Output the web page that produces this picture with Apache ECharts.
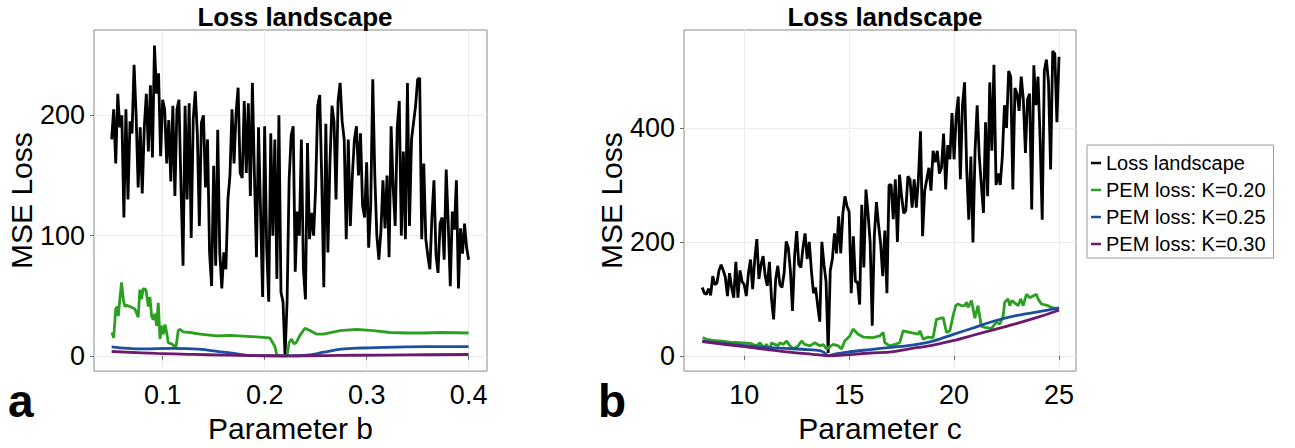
<!DOCTYPE html>
<html>
<head>
<meta charset="utf-8">
<script src="https://cdn.jsdelivr.net/npm/echarts@6/dist/echarts.min.js"></script>
<style>html,body{margin:0;padding:0;background:#fff}#c{width:1295px;height:448px}</style>
</head>
<body>
<div id="c"></div>
<script>
// ---------- Data ----------
const bStart = 0.05, bStep = 0.002;
const lossB = [
180,205,160,218,190,200,115,205,130,195,185,242,200,140,190,135,190,218,170,225,165,258,218,235,166,213,205,160,196,145,208,133,205,213,140,75,208,130,210,98,197,220,185,108,194,200,140,180,86,58,158,75,188,86,56,86,72,130,150,205,160,
202,223,152,148,212,152,210,133,227,150,82,190,120,49,191,90,45,185,100,180,64,200,53,45,0,45,146,183,191,70,120,100,180,72,47,177,97,119,100,140,208,217,146,57,193,86,160,208,195,130,212,227,195,180,97,180,108,150,180,191,150,
185,125,115,161,90,125,230,150,100,80,104,146,106,150,82,191,140,108,190,212,100,170,97,227,108,180,194,208,230,231,97,160,97,83,72,115,146,84,69,110,115,80,155,110,58,120,105,146,56,106,85,110,90,80
];
const pemB020_b = [0.0503,0.052,0.054,0.0556,0.0565,0.058,0.0597,0.0614,0.063,0.0646,0.0679,0.0728,0.076,0.0777,0.0793,0.081,0.0836,0.0859,0.0875,0.0892,0.0908,0.0924,0.0941,0.0957,0.0974,0.099,0.1006,0.1023,0.104,0.1055,0.1088,0.113,0.1153,0.117,0.1202,0.1268,0.1366,0.153,0.166,0.192,0.205,0.210,0.2117,0.2143,0.222,0.224,0.2264,0.2287,0.231,0.2346,0.2395,0.2444,0.251,0.2575,0.274,0.290,0.3065,0.323,0.339,0.356,0.372,0.400];
const pemB020_v = [19.4,15,39,41,33,47,61,47,41,42,41,39,32,55,47,56,55,41,49,33,30,35,25,44,14,25,18,26,19,11,10,7,21,22,20,19.4,18,16.6,17,15.8,15,8,1.4,0,0,11,14,10,11,17,23,21,18,18,21,22,21,19.4,19,19,19.4,19];
const pemB025_b = [0.05,0.08,0.11,0.135,0.155,0.17,0.186,0.222,0.242,0.258,0.275,0.295,0.33,0.36,0.40];
const pemB025_v = [7.5,5.8,6.2,5.5,3.5,2,0.2,0,0.5,3,5.5,6.5,7.3,7.6,7.6];
const pemB030_b = [0.05,0.094,0.13,0.16,0.19,0.225,0.26,0.29,0.34,0.40];
const pemB030_v = [3.6,2,1.2,0.6,0.2,0,0.2,0.5,0.8,1.1];

const cStart = 8, cStep = 0.1;
const lossC = [
120,110,108,118,106,140,125,128,150,160,150,138,105,145,120,102,165,102,150,130,125,105,145,169,117,169,205,135,160,175,140,123,165,100,64,135,158,125,120,145,201,190,150,79,175,219,160,155,190,215,170,200,150,110,
120,88,60,200,160,130,5,150,170,215,180,245,180,250,280,262,253,110,210,130,130,90,265,155,292,250,200,53,210,270,230,197,140,220,110,300,300,240,310,200,318,280,250,255,315,310,260,310,260,310,394,210,290,310,330,290,360,340,360,320,
330,390,292,370,345,426,345,420,455,310,440,480,330,239,350,199,360,440,350,300,251,410,280,480,360,511,300,320,300,350,440,400,500,490,292,470,460,430,490,450,356,450,460,257,510,440,490,380,239,500,520,480,327,535,530,410,525
];
const pemC020_c = [8.02,8.21,8.53,8.92,9.32,9.80,10.27,10.59,10.75,10.91,11.07,11.22,11.30,11.46,11.62,11.70,11.86,12.02,12.18,12.34,12.57,12.73,12.89,13.13,13.37,13.60,13.76,13.92,14.24,14.48,14.64,14.79,15.03,15.19,15.43,15.67,16.14,16.46,16.62,16.70,16.94,17.18,17.41,17.57,17.89,18.29,18.37,18.53,18.76,19.00,19.16,19.48,19.64,19.80,19.95,20.08,20.19,20.35,20.51,20.59,20.67,20.83,20.99,21.14,21.30,21.46,21.78,22.02,22.18,22.34,22.41,22.57,22.65,22.76,23.05,23.18,23.29,23.45,23.61,23.76,23.92,24.00,24.16,24.48,24.72,24.99];
const pemC020_v = [32,29,27,26,24,23,22,17.5,23,15,20,9,23,20,18,23,20,26,17.5,12,17.5,26,20,17.5,23,17.5,20,12,20,17.5,12,26,35,47,38,33,32,35,41,23,17.5,20,23,44,41,38,44,29,33,32,64,67,41,44,70,88,91,88,88,94,85,97,66,88,52,50,48,59,56,70,94,100,88,97,88,100,88,108,102,105,108,100,91,88,84,83];
const pemC025_c = [8,9,10,11,12,13,13.6,13.8,14.0,14.3,15,16,17,18,19,20,21,22,23,24,25];
const pemC025_v = [26,22,18,15,13,11,9,6,0.5,3,7,11,15,19,26,38,50,62,71,77,84];
const pemC030_c = [8,10,12,13.5,14,15,16,17,18,19,20,21,22,23,24,25];
const pemC030_v = [25,16,7,2,0,2,5,7,13,19,27,37,47,57,68,80];

const names = ['Loss landscape','PEM loss: K=0.20','PEM loss: K=0.25','PEM loss: K=0.30'];
const colors = ['#000000','#2ba020','#1d4f9e','#6b1a6e'];
const xTicksB = [0.1,0.2,0.3,0.4];
const yTicksB = [0,100,200];
const xTicksC = [10,15,20,25];
const yTicksC = [0,200,400];

// ---------- Build ----------
const zip = (xs, ys) => xs.map((x, i) => [x, ys[i]]);
const gridded = (start, step, ys) => ys.map((y, i) => [+(start + i * step).toFixed(4), y]);

const FONT = 'Liberation Sans, Arial, Helvetica, sans-serif';
function xAx(grid, min, max, ticks, name, dec) {
  return {
    type: 'value', gridIndex: grid, min: min, max: max,
    name: name, nameLocation: 'middle', nameGap: 41,
    nameTextStyle: { fontSize: 30, color: '#000', fontFamily: FONT },
    axisLine: { show: false },
    axisTick: { show: true, customValues: ticks, length: 4, lineStyle: { color: '#666' } },
    axisLabel: { customValues: ticks, fontSize: 27, color: '#000', margin: 10, fontFamily: FONT,
      formatter: v => v.toFixed(dec) },
    splitLine: { show: true, lineStyle: { color: '#ebebeb', width: 1 } }
  };
}
function yAx(grid, min, max, ticks, gap) {
  return {
    type: 'value', gridIndex: grid, min: min, max: max,
    name: 'MSE Loss', nameLocation: 'middle', nameGap: gap,
    nameTextStyle: { fontSize: 30, color: '#000', fontFamily: FONT },
    axisLine: { show: false },
    axisTick: { show: true, customValues: ticks, length: 4, lineStyle: { color: '#666' } },
    axisLabel: { customValues: ticks, fontSize: 27, color: '#000', margin: 9, fontFamily: FONT,
      formatter: v => String(Math.round(v)) },
    splitLine: { show: true, lineStyle: { color: '#ebebeb', width: 1 } }
  };
}
function line(name, idx, data, color, smooth, z) {
  return { type: 'line', name: name, xAxisIndex: idx, yAxisIndex: idx, data: data,
    showSymbol: false, symbol: 'none', smooth: smooth, z: z,
    lineStyle: { color: color, width: 2.8 }, itemStyle: { color: color }, animation: false };
}

const chart = echarts.init(document.getElementById('c'), null, { renderer: 'svg' });
chart.setOption({
  animation: false,
  backgroundColor: '#fff',
  textStyle: { fontFamily: FONT },
  title: [
    { text: 'Loss landscape', left: 290, top: -1, textAlign: 'center',
      textStyle: { fontSize: 26, fontWeight: 'bold', color: '#000', fontFamily: FONT } },
    { text: 'Loss landscape', left: 880, top: -1, textAlign: 'center',
      textStyle: { fontSize: 26, fontWeight: 'bold', color: '#000', fontFamily: FONT } }
  ],
  grid: [
    { left: 94, right: 808, top: 30, bottom: 76, show: true, borderColor: '#888', borderWidth: 1, containLabel: false },
    { left: 684, right: 219, top: 30, bottom: 76, show: true, borderColor: '#888', borderWidth: 1, containLabel: false }
  ],
  xAxis: [
    xAx(0, 0.0327, 0.418, xTicksB, 'Parameter b', 1),
    xAx(1, 7.13, 25.81, xTicksC, 'Parameter c', 0)
  ],
  yAxis: [
    yAx(0, -12.7, 271, yTicksB, 55),
    yAx(1, -26.8, 572, yTicksC, 52)
  ],
  legend: {
    data: names, orient: 'vertical', left: 1087, top: 145,
    icon: 'rect', itemWidth: 10, itemHeight: 2.5, itemGap: 5,
    padding: [7, 8, 3, 4],
    borderColor: '#999', borderWidth: 1, borderRadius: 0,
    textStyle: { fontSize: 20, color: '#000', lineHeight: 22, fontFamily: FONT }
  },
  graphic: [
    { type: 'text', left: 8, top: 378, style: { text: 'a', font: 'bold 46px ' + FONT, fill: '#000' } },
    { type: 'text', left: 598, top: 378, style: { text: 'b', font: 'bold 46px ' + FONT, fill: '#000' } }
  ],
  series: [
    line(names[0], 0, gridded(bStart, bStep, lossB), colors[0], false, 2),
    line(names[1], 0, zip(pemB020_b, pemB020_v), colors[1], false, 3),
    line(names[2], 0, zip(pemB025_b, pemB025_v), colors[2], 0.4, 4),
    line(names[3], 0, zip(pemB030_b, pemB030_v), colors[3], 0.4, 5),
    line(names[0], 1, gridded(cStart, cStep, lossC), colors[0], false, 2),
    line(names[1], 1, zip(pemC020_c, pemC020_v), colors[1], false, 3),
    line(names[2], 1, zip(pemC025_c, pemC025_v), colors[2], 0.3, 4),
    line(names[3], 1, zip(pemC030_c, pemC030_v), colors[3], 0.3, 5)
  ]
});
</script>
</body>
</html>
